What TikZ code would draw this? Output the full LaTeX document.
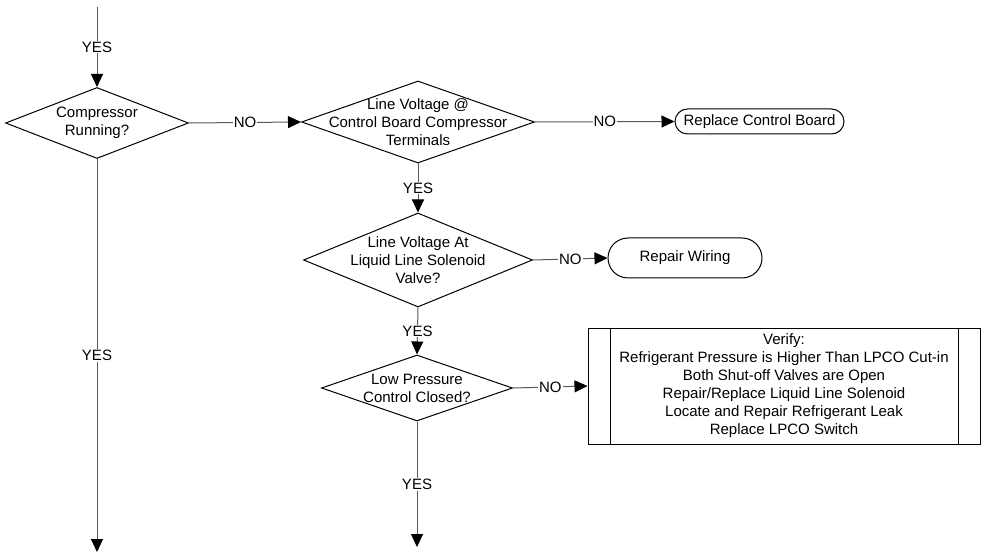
\documentclass[tikz,border=0pt]{standalone}
\usepackage{fontspec}
\setmainfont{Liberation Sans}
\usetikzlibrary{shapes.geometric,arrows.meta,calc}
\definecolor{conn}{RGB}{90,90,90}
\tikzset{
  every node/.style={font=\fontsize{15pt}{18pt}\selectfont},
  dia/.style={draw=black, line width=1pt, shape=diamond, inner sep=0pt},
  txt/.style={align=center, inner sep=0pt},
  term/.style={draw=black, line width=1pt, rectangle, inner sep=0pt},
  conn/.style={draw=conn, line width=1pt, -{Triangle[length=13pt,width=12pt,color=black]}},
  lbl/.style={fill=white, inner sep=1pt}
}
\begin{document}
\begin{tikzpicture}[x=1pt,y=-1pt]
\useasboundingbox (0,0) rectangle (982,553);
% decision diamonds
\node[dia, minimum width=183pt, minimum height=71pt] (d1) at (97,123) {};
\node[txt] (d1t) at (d1) {Compressor\\Running?};
\node[dia, minimum width=233pt, minimum height=82pt] (d2) at (418,122) {};
\node[txt] (d2t) at (d2) {Line Voltage @\\Control Board Compressor\\Terminals};
\node[dia, minimum width=229pt, minimum height=94pt] (d3) at (418,260) {};
\node[txt] (d3t) at (d3) {Line Voltage At\\Liquid Line Solenoid\\Valve?};
\node[dia, minimum width=191pt, minimum height=66pt] (d4) at (417,388) {};
\node[txt] (d4t) at (d4) {Low Pressure\\Control Closed?};
% terminals
\node[term, rounded corners=12.5pt, minimum width=169pt, minimum height=25pt] (rcb) at (759.5,121.5) {Replace Control Board};
\node[term, rounded corners=20pt, minimum width=154pt, minimum height=40pt] (rw) at (685,258) {Repair Wiring};
% verify box
\node[term, minimum width=392pt, minimum height=116pt, align=center] (vb) at (784,386)
  {Verify:\\Refrigerant Pressure is Higher Than LPCO Cut-in\\Both Shut-off Valves are Open\\Repair/Replace Liquid Line Solenoid\\Locate and Repair Refrigerant Leak\\Replace LPCO Switch};
\draw[line width=1pt] ([xshift=23pt]vb.north west) -- ([xshift=23pt]vb.south west);
\draw[line width=1pt] ([xshift=-22pt]vb.north east) -- ([xshift=-22pt]vb.south east);
% free ends
\coordinate (top) at (97,7);
\coordinate (endL) at (97,552);
\coordinate (endM) at (417,547);
% connectors
\draw[conn] (top) -- node[lbl]{YES} (d1.north);
\draw[conn] (d1.east) -- node[lbl]{NO} (d2.west);
\draw[conn] (d2.east) -- node[lbl]{NO} (rcb.west);
\draw[conn] (d2.south) -- node[lbl]{YES} (d3.north);
\draw[conn] (d3.east) -- node[lbl]{NO} (rw.west);
\draw[conn] (d3.south) -- node[lbl]{YES} (d4.north);
\draw[conn] (d4.east) -- node[lbl]{NO} (vb.west);
\draw[conn] (d4.south) -- node[lbl]{YES} (endM);
\draw[conn] (d1.south) -- node[lbl]{YES} (endL);
\end{tikzpicture}
\end{document}
